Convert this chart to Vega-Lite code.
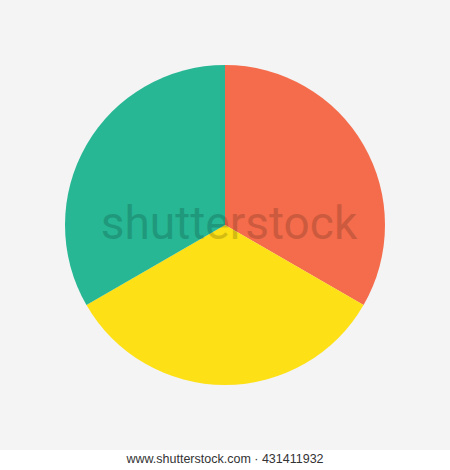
{
  "$schema": "https://vega.github.io/schema/vega-lite/v6.json",
  "width": 450,
  "height": 450,
  "padding": 0,
  "autosize": {"type": "pad"},
  "background": "white",
  "view": {"fill": "#f4f4f4", "stroke": null},
  "config": {"view": {"fill": "#f4f4f4", "stroke": null}},
  "title": {
    "text": "www.shutterstock.com · 431411932",
    "orient": "bottom",
    "anchor": "middle",
    "font": "Liberation Sans",
    "fontSize": 12.5,
    "fontWeight": "normal",
    "color": "#333333",
    "offset": 3,
    "frame": "group"
  },
  "layer": [
    {
      "data": {"values": [
        {"slice": "A", "value": 1, "order": 1},
        {"slice": "B", "value": 1, "order": 2},
        {"slice": "C", "value": 1, "order": 3}
      ]},
      "mark": {"type": "arc", "outerRadius": 160},
      "encoding": {
        "theta": {"field": "value", "type": "quantitative", "stack": true},
        "order": {"field": "order", "type": "quantitative"},
        "color": {
          "field": "slice",
          "type": "nominal",
          "scale": {"domain": ["A", "B", "C"], "range": ["#f46c4b", "#fde016", "#27b794"]},
          "legend": null
        }
      }
    },
    {
      "data": {"values": [{"label": "shutterstock"}]},
      "mark": {"type": "text", "font": "Roboto", "fontSize": 46, "color": "#000000", "opacity": 0.16, "baseline": "middle", "align": "center", "dx": 4},
      "encoding": {"text": {"field": "label", "type": "nominal"}}
    }
  ]
}
